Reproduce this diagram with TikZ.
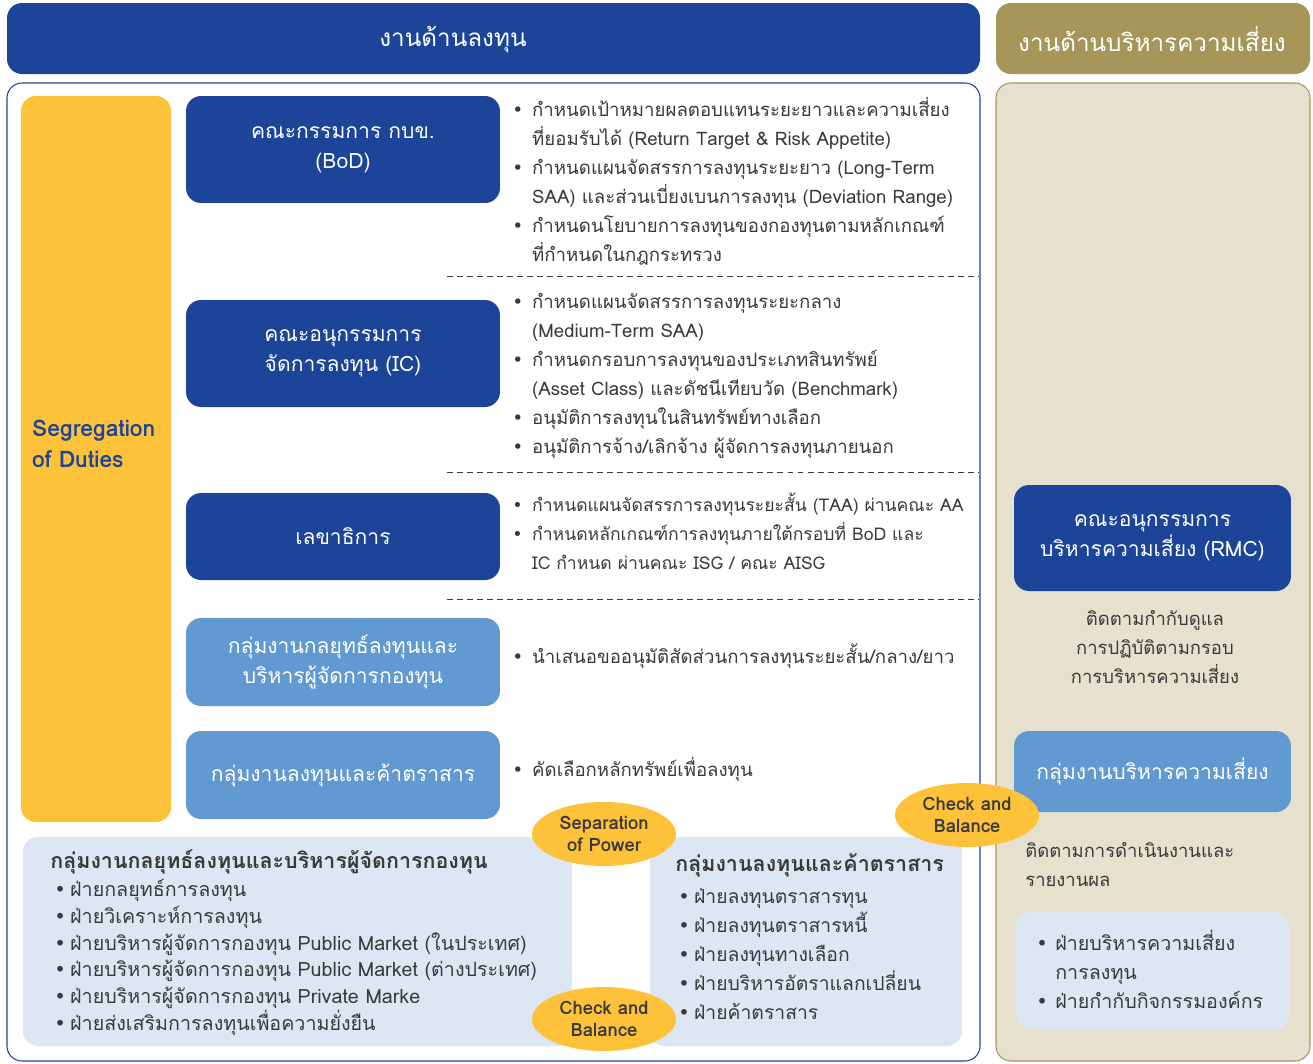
\documentclass[tikz,border=0pt]{standalone}
\usepackage{fontspec}
\setmainfont[Script=Thai]{Loma}
\newfontfamily\symfont{DejaVu Sans}
\usetikzlibrary{shapes.geometric}

\definecolor{invblue}{RGB}{28,69,153}
\definecolor{riskgold}{RGB}{166,150,89}
\definecolor{riskbg}{RGB}{230,224,206}
\definecolor{sodyellow}{RGB}{253,193,58}
\definecolor{unitblue}{RGB}{97,153,209}
\definecolor{paleblue}{RGB}{220,231,243}
\definecolor{textgray}{RGB}{58,58,58}

\newlength\bulw
\setlength\bulw{11.3pt}
\newcommand\bul{\makebox[\bulw][l]{\symfont •}}
\newcommand\cnt{\hspace*{\bulw}}

\begin{document}
\lineskiplimit=-10pt
\begin{tikzpicture}[x=0.02cm, y=-0.02cm,
  headtext/.style={text=white, font=\fontsize{13.8}{18}\selectfont},
  darkbox/.style={fill=invblue, rounded corners=0.3cm, text=white, align=center,
    minimum width=6.28cm, font=\fontsize{12}{17}\selectfont},
  unitbox/.style={darkbox, fill=unitblue},
  bullets/.style={text=textgray, align=left, anchor=west, inner sep=0pt,
    font=\fontsize{10.6}{16.5}\selectfont},
  grouptitle/.style={text=textgray, anchor=west, inner sep=0pt, font=\fontsize{12.2}{16}\selectfont\bfseries},
  oval/.style={ellipse, fill=sodyellow, minimum width=2.88cm, minimum height=1.28cm, inner sep=0pt,
    align=center, text=textgray, font=\fontsize{10.5}{13}\selectfont\bfseries},
  sep/.style={dashed, dash pattern=on 3.4pt off 2.3pt, textgray, line width=0.5pt}]

\useasboundingbox (0,0) rectangle (1313,1063);

% headers
\fill[invblue, rounded corners=0.3cm] (7,3) rectangle (980,74);
\node[headtext] (invhead) at (453,40) {งานด้านลงทุน};
\fill[riskgold, rounded corners=0.3cm] (996,3) rectangle (1310,74);
\node[headtext] (riskhead) at (1152,39) {งานด้านบริหารความเสี่ยง};

% panels
\draw[invblue, fill=white, line width=0.6pt, rounded corners=0.3cm] (7,83) rectangle (980,1061);
\draw[riskgold, fill=riskbg, line width=0.6pt, rounded corners=0.3cm] (996,83) rectangle (1310,1061);

% segregation of duties
\fill[sodyellow, rounded corners=0.3cm] (21,96) rectangle (171,822);
\node[anchor=west, align=left, text=invblue, font=\fontsize{13}{18}\selectfont\bfseries] (sod) at (26,444) {Segregation\\of Duties};

% committees and units
\node[darkbox, minimum height=2.14cm] (bod) at (343,149.5) {คณะกรรมการ กบข.\\(BoD)};
\node[darkbox, minimum height=2.14cm] (ic) at (343,353.5) {คณะอนุกรรมการ\\จัดการลงทุน (IC)};
\node[darkbox, minimum height=1.74cm] (sec) at (343,536.5) {เลขาธิการ};
\node[unitbox, minimum height=1.76cm] (strat) at (343,662) {กลุ่มงานกลยุทธ์ลงทุนและ\\บริหารผู้จัดการกองทุน};
\node[unitbox, minimum height=1.76cm] (trade) at (343,775) {กลุ่มงานลงทุนและค้าตราสาร};

% duties
\node[bullets] (boddut) at (512,181.5) {\bul กำหนดเป้าหมายผลตอบแทนระยะยาวและความเสี่ยง\\
\cnt ที่ยอมรับได้ (Return Target \& Risk Appetite)\\
\bul กำหนดแผนจัดสรรการลงทุนระยะยาว (Long-Term\\
\cnt SAA) และส่วนเบี่ยงเบนการลงทุน (Deviation Range)\\
\bul กำหนดนโยบายการลงทุนของกองทุนตามหลักเกณฑ์\\
\cnt ที่กำหนดในกฎกระทรวง};
\node[bullets] (icdut) at (512,376) {\bul กำหนดแผนจัดสรรการลงทุนระยะกลาง\\
\cnt (Medium-Term SAA)\\
\bul กำหนดกรอบการลงทุนของประเภทสินทรัพย์\\
\cnt (Asset Class) และดัชนีเทียบวัด (Benchmark)\\
\bul อนุมัติการลงทุนในสินทรัพย์ทางเลือก\\
\bul อนุมัติการจ้าง/เลิกจ้าง ผู้จัดการลงทุนภายนอก};
\node[bullets, font=\fontsize{10}{16.5}\selectfont] (secdut) at (512,531) {\bul กำหนดแผนจัดสรรการลงทุนระยะสั้น (TAA) ผ่านคณะ AA\\
\bul กำหนดหลักเกณฑ์การลงทุนภายใต้กรอบที่ BoD และ\\
\cnt IC กำหนด ผ่านคณะ ISG / คณะ AISG};
\node[bullets] (stratdut) at (512,656) {\bul นำเสนอขออนุมัติสัดส่วนการลงทุนระยะสั้น/กลาง/ยาว};
\node[bullets] (tradedut) at (512,769) {\bul คัดเลือกหลักทรัพย์เพื่อลงทุน};

\draw[sep] (447,276) -- (978,276);
\draw[sep] (447,472) -- (978,472);
\draw[sep] (447,599) -- (978,599);

% departments
\fill[paleblue, rounded corners=0.3cm] (23,837) rectangle (572,1046);
\node[grouptitle] (stratgrp) at (50,862) {กลุ่มงานกลยุทธ์ลงทุนและบริหารผู้จัดการกองทุน};
\node[bullets, font=\fontsize{11.2}{15.2}\selectfont\setlength\bulw{9pt}] (stratdep) at (54,957.5) {\bul ฝ่ายกลยุทธ์การลงทุน\\
\bul ฝ่ายวิเคราะห์การลงทุน\\
\bul ฝ่ายบริหารผู้จัดการกองทุน Public Market (ในประเทศ)\\
\bul ฝ่ายบริหารผู้จัดการกองทุน Public Market (ต่างประเทศ)\\
\bul ฝ่ายบริหารผู้จัดการกองทุน Private Marke\\
\bul ฝ่ายส่งเสริมการลงทุนเพื่อความยั่งยืน};
\fill[paleblue, rounded corners=0.3cm] (650,837) rectangle (962,1046);
\node[grouptitle] (tradegrp) at (675,865) {กลุ่มงานลงทุนและค้าตราสาร};
\node[bullets, font=\fontsize{11}{16.5}\selectfont\setlength\bulw{9pt}] (tradedep) at (678,954) {\bul ฝ่ายลงทุนตราสารทุน\\
\bul ฝ่ายลงทุนตราสารหนี้\\
\bul ฝ่ายลงทุนทางเลือก\\
\bul ฝ่ายบริหารอัตราแลกเปลี่ยน\\
\bul ฝ่ายค้าตราสาร};

% risk side
\node[darkbox, minimum width=5.54cm, minimum height=2.12cm] (rmc) at (1152.5,538) {คณะอนุกรรมการ\\บริหารความเสี่ยง (RMC)};
\node[bullets, anchor=center, align=center, font=\fontsize{10.5}{16.5}\selectfont] (rmcdut) at (1155,647) {ติดตามกำกับดูแล\\การปฏิบัติตามกรอบ\\การบริหารความเสี่ยง};
\node[unitbox, minimum width=5.54cm, minimum height=1.62cm] (riskgrp) at (1152.5,771.5) {กลุ่มงานบริหารความเสี่ยง};
\node[bullets, font=\fontsize{10.5}{16.5}\selectfont] (riskdut) at (1025,865) {ติดตามการดำเนินงานและ\\รายงานผล};
\fill[paleblue, rounded corners=0.3cm] (1016,912) rectangle (1289,1029);
\node[bullets, font=\fontsize{11.2}{16.5}\selectfont\setlength\bulw{10.8pt}] (riskdep) at (1036,969.5) {\bul ฝ่ายบริหารความเสี่ยง\\
\cnt การลงทุน\\
\bul ฝ่ายกำกับกิจกรรมองค์กร};

% principles
\node[oval] (power) at (604,834) {Separation\\of Power};
\node[oval] (check) at (604,1019) {Check and\\Balance};
\node[oval] (riskcheck) at (967,815) {Check and\\Balance};
\end{tikzpicture}
\end{document}
